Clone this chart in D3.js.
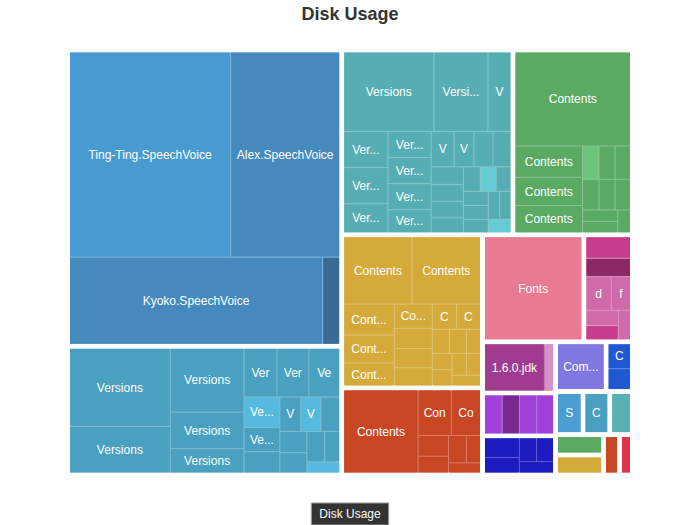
<!DOCTYPE html>
<html>
<head>
<meta charset="utf-8">
<script src="https://cdn.jsdelivr.net/npm/d3@7"></script>
<style>
  body { margin: 0; background: #ffffff; }
  svg { display: block; font-family: "Liberation Sans", Arial, Helvetica, sans-serif; }
</style>
</head>
<body>
<svg id="chart" width="700" height="525"></svg>
<script>
// ---------------- DATA ----------------
// total size of each top-level folder (same order as the leaf arrays below)
const groupTotals = [81245, 35290, 31656, 22084, 21556, 12264, 10850, 5200, 3738, 3124, 2862, 2515, 1312, 1183, 1152, 980, 978, 962, 644, 527];

const voicesLabels = ["Ting-Ting.SpeechVoice", "Alex.SpeechVoice", "Kyoko.SpeechVoice", ""];
const voicesValues = [32844, 22236, 21924, 1479];

const versionsALabels = ["Versions", "Versions", "Versions", "Versions", "Versions", "Ver", "Ver", "Ve", "Ve...", "Ve...", "", "V", "V", "", "", "", "", "", ""];
const versionsAValues = [7777, 4654, 4654, 2664, 1776, 1584, 1536, 1488, 1080, 864, 756, 714, 680, 646, 567, 540, 540, 450, 363];

const versionsBLabels = ["Versions", "Versi...", "V", "Ver...", "Ver...", "Ver...", "Ver...", "Ver...", "Ver...", "Ver...", "V", "V", "", "", "", "", "", "", "", "", "", "", "", "", "", "", ""];
const versionsBValues = [7110, 4266, 1817, 1584, 1584, 1276, 1118, 1118, 1118, 989, 805, 700, 665, 630, 560, 540, 530, 480, 408, 384, 360, 350, 350, 325, 320, 315, 300];

const contentsALabels = ["Contents", "Contents", "Contents", "Contents", "", "", "", "", "", "", "", "", ""];
const contentsAValues = [10810, 2100, 1900, 1830, 545, 530, 515, 505, 490, 470, 400, 400, 290];

const contentsBLabels = ["Contents", "Contents", "Cont...", "Cont...", "Cont...", "Co...", "", "", "", "C", "C", "", "", "", "", "", "", "", ""];
const contentsBValues = [4556, 4556, 1550, 1400, 1150, 912, 760, 722, 684, 600, 600, 408, 408, 336, 320, 318, 310, 305, 300];

const contentsCLabels = ["Contents", "Con", "Co", "", "", "", "", ""];
const contentsCValues = [6068, 1485, 1305, 620, 500, 480, 380, 320];

const fontsLabels = ["Fonts"];
const fontsValues = [9894];

const shareLabels = [["", ""], "d", "f", "", "", ""];
const shareValues = [[924, 792], 825, 627, 480, 448, 348];

const jdkLabels = ["1.6.0.jdk", ""];
const jdkValues = [2773, 423];

const violetLabels = [["", ""], ["", ""]];
const violetValues = [[660, 650], [640, 630]];

const navyLabels = ["", "", "", "", ""];
const navyValues = [660, 520, 391, 391, 374];

const comLabels = ["Com..."];
const comValues = [2070];

const cLabels = ["C", ""];
const cValues = [550, 462];

const sLabels = ["S"];   const sValues = [897];
const c2Labels = ["C"];  const c2Values = [858];
const o1Labels = [""];   const o1Values = [702];
const o2Labels = [""];   const o2Values = [688];
const o3Labels = [""];   const o3Values = [602];
const o4Labels = [""];   const o4Values = [385];
const o5Labels = [""];   const o5Values = [280];

const groupLabelLists = [voicesLabels, versionsALabels, versionsBLabels, contentsALabels, contentsBLabels, contentsCLabels, fontsLabels, shareLabels, jdkLabels, violetLabels, navyLabels, comLabels, cLabels, sLabels, c2Labels, o1Labels, o2Labels, o3Labels, o4Labels, o5Labels];
const groupValueLists = [voicesValues, versionsAValues, versionsBValues, contentsAValues, contentsBValues, contentsCValues, fontsValues, shareValues, jdkValues, violetValues, navyValues, comValues, cValues, sValues, c2Values, o1Values, o2Values, o3Values, o4Values, o5Values];

// ---------------- STYLE ----------------
const groupColors = ["#4a9ad2", "#4aa0c0", "#56aeb4", "#5aaa64", "#d4aa3a", "#c84624", "#e87a92", "#d06aa8", "#a03c90", "#a040d8", "#1c1cc0", "#8078e0", "#2058d4", "#4c9cd4", "#4aa0c0", "#56b0b4", "#5aaa64", "#d4aa3a", "#c84624", "#e03446"];
const shadeColors = {
  "0-1": "#468abd", "0-2": "#468abd", "0-3": "#386c93",
  "1-8": "#56b9de", "1-12": "#56b9de", "1-18": "#56b9de",
  "2-19": "#64ccd2", "2-26": "#64ccd2",
  "3-4": "#6cc478",
  "7-0-0": "#c83c8c", "7-0-1": "#8c2864", "7-4": "#c83c8c",
  "8-1": "#d890c8",
  "9-0-1": "#78288c"
};

const W = 700, H = 525;
const plot = { left: 70, top: 52.5, width: 560, height: 420 };

// ---------------- BUILD HIERARCHY ----------------
function sumNested(v) { return Array.isArray(v) ? v.reduce((s, x) => s + sumNested(x), 0) : v; }
function build(labels, values, key, factor, gi) {
  return values.map((v, i) => Array.isArray(v)
    ? { key: key + "-" + i, gi, children: build(labels[i], v, key + "-" + i, factor, gi) }
    : { key: key + "-" + i, gi, name: labels[i], value: v * factor });
}
const groups = groupTotals.map((t, gi) => {
  const factor = t / sumNested(groupValueLists[gi]);
  return { key: String(gi), gi, children: build(groupLabelLists[gi], groupValueLists[gi], String(gi), factor, gi) };
});

const root = d3.hierarchy({ key: "root", children: groups })
  .sum(d => d.children ? 0 : d.value)
  .sort((a, b) => b.value - a.value);

d3.treemap()
  .tile(d3.treemapSquarify)
  .size([plot.width, plot.height])
  .paddingInner(d => d.depth === 0 ? 5 : 1)
  .paddingOuter(0)(root);

// ---------------- DRAW ----------------
const svg = d3.select("#chart");

svg.append("text")
  .attr("x", W / 2).attr("y", 20)
  .attr("text-anchor", "middle")
  .attr("font-size", 18).attr("font-weight", "bold")
  .attr("fill", "#333")
  .text("Disk Usage");

const g = svg.append("g").attr("transform", `translate(${plot.left},${plot.top})`);
const tint = c => d3.interpolateRgb(c, "#ffffff")(0.3);

// parent backgrounds (show as thin light separator lines)
g.selectAll("rect.parent")
  .data(root.descendants().filter(d => d.depth > 0 && d.children))
  .join("rect")
  .attr("class", "parent")
  .attr("x", d => d.x0).attr("y", d => d.y0)
  .attr("width", d => Math.max(0, d.x1 - d.x0))
  .attr("height", d => Math.max(0, d.y1 - d.y0))
  .attr("fill", d => tint(groupColors[d.data.gi]));

const leaves = g.selectAll("g.leaf")
  .data(root.leaves())
  .join("g")
  .attr("class", "leaf");

leaves.append("rect")
  .attr("x", d => d.x0).attr("y", d => d.y0)
  .attr("width", d => Math.max(0, d.x1 - d.x0))
  .attr("height", d => Math.max(0, d.y1 - d.y0))
  .attr("fill", d => shadeColors[d.data.key] || groupColors[d.data.gi]);

leaves.filter(d => d.data.name)
  .append("text")
  .attr("x", d => (d.x0 + d.x1) / 2)
  .attr("y", d => (d.y0 + d.y1) / 2)
  .attr("dy", "0.35em")
  .attr("text-anchor", "middle")
  .attr("font-size", 12)
  .attr("fill", "#ffffff")
  .text(d => d.data.name);

// breadcrumb
const bc = svg.append("g");
const bcText = bc.append("text")
  .attr("x", W / 2).attr("y", 514)
  .attr("dy", "0.35em")
  .attr("text-anchor", "middle")
  .attr("font-size", 12)
  .attr("fill", "#ffffff")
  .text("Disk Usage");
const tw = bcText.node().getComputedTextLength();
bc.insert("rect", "text")
  .attr("x", W / 2 - tw / 2 - 8).attr("y", 503)
  .attr("width", tw + 16).attr("height", 22)
  .attr("fill", "#333333")
  .attr("stroke", "#9a9a9a")
  .attr("stroke-width", 1);
</script>
</body>
</html>
